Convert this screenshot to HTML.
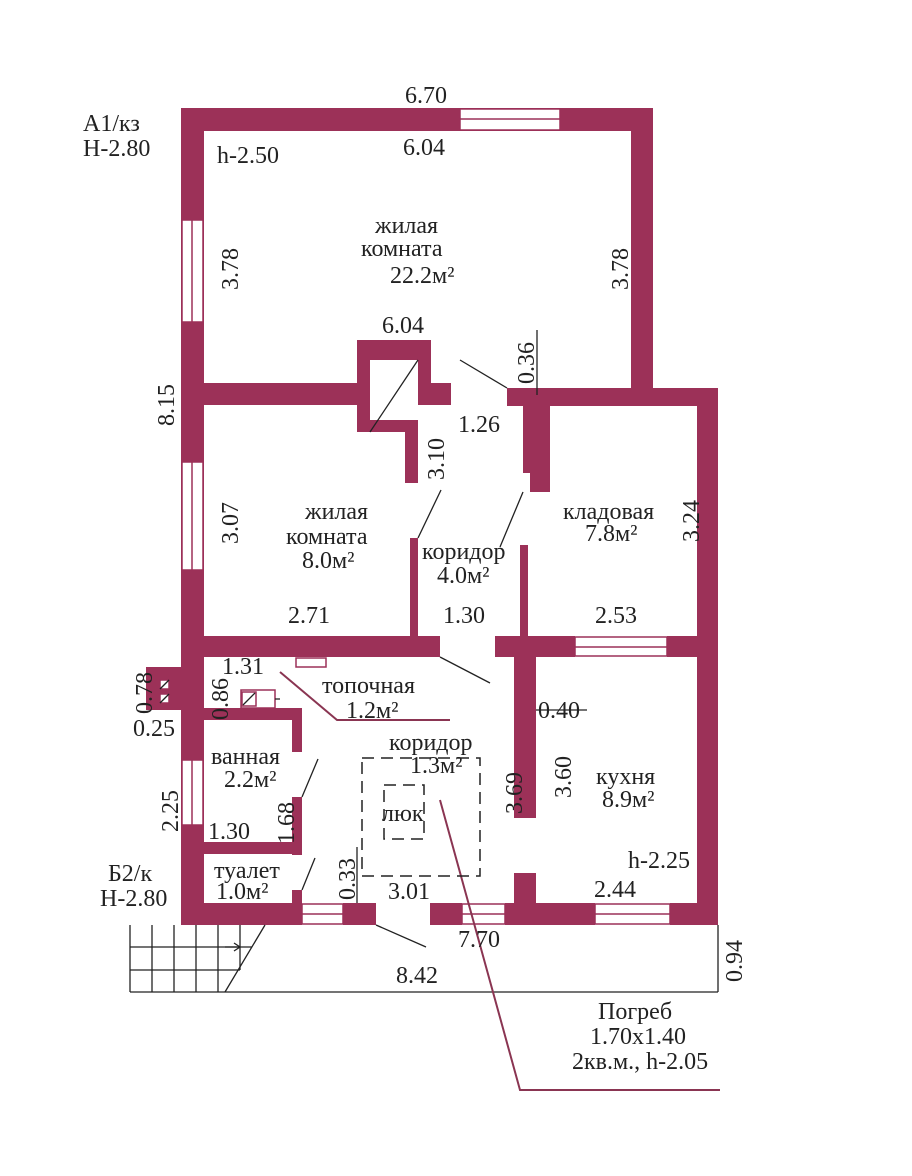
<!DOCTYPE html>
<html><head><meta charset="utf-8"><style>
body{margin:0;background:#fff}
svg text{font-family:"Liberation Serif",serif;fill:#222;font-size:24px}
</style></head><body>
<svg width="912" height="1171" viewBox="0 0 912 1171" xmlns="http://www.w3.org/2000/svg">
<g fill="#9c3158">
<rect x="181" y="108" width="472" height="23"/>
<rect x="181" y="108" width="23" height="817"/>
<rect x="631" y="108" width="22" height="297"/>
<rect x="507" y="388" width="211" height="18"/>
<rect x="697" y="388" width="21" height="537"/>
<rect x="181" y="903" width="121" height="22"/>
<rect x="343" y="903" width="33" height="22"/>
<rect x="430" y="903" width="32" height="22"/>
<rect x="505" y="903" width="90" height="22"/>
<rect x="670" y="903" width="48" height="22"/>
<rect x="204" y="383" width="156" height="22"/>
<rect x="357" y="340" width="74" height="20"/>
<rect x="357" y="340" width="13" height="92"/>
<rect x="418" y="340" width="13" height="65"/>
<rect x="418" y="383" width="33" height="22"/>
<rect x="357" y="420" width="61" height="12"/>
<rect x="405" y="420" width="13" height="63"/>
<rect x="523" y="388" width="27" height="85"/>
<rect x="530" y="470" width="20" height="22"/>
<rect x="410" y="538" width="8" height="100"/>
<rect x="204" y="636" width="236" height="21"/>
<rect x="520" y="545" width="8" height="93"/>
<rect x="495" y="636" width="80" height="21"/>
<rect x="667" y="636" width="30" height="21"/>
<rect x="514" y="657" width="22" height="161"/>
<rect x="514" y="873" width="22" height="30"/>
<rect x="204" y="708" width="98" height="12"/>
<rect x="292" y="710" width="10" height="42"/>
<rect x="292" y="797" width="10" height="58"/>
<rect x="204" y="842" width="98" height="12"/>
<rect x="292" y="890" width="10" height="15"/>
<rect x="146" y="667" width="36" height="43"/>
</g>
<g fill="#fff" stroke="#9c3158" stroke-width="1.5">
<rect x="460" y="109" width="100" height="21"/><line x1="460" y1="119" x2="560" y2="119"/>
<rect x="182" y="220" width="21" height="102"/><line x1="192" y1="220" x2="192" y2="322"/>
<rect x="182" y="462" width="21" height="108"/><line x1="192" y1="462" x2="192" y2="570"/>
<rect x="182" y="760" width="21" height="65"/><line x1="192" y1="760" x2="192" y2="825"/>
<rect x="575" y="637" width="92" height="19"/><line x1="575" y1="647" x2="667" y2="647"/>
<rect x="302" y="904" width="41" height="20"/><line x1="302" y1="914" x2="343" y2="914"/>
<rect x="462" y="904" width="43" height="20"/><line x1="462" y1="914" x2="505" y2="914"/>
<rect x="595" y="904" width="75" height="20"/><line x1="595" y1="914" x2="670" y2="914"/>
</g>
<g fill="#fff" stroke="#9c3158" stroke-width="1.5">
<rect x="296" y="658" width="30" height="9"/>
<rect x="160" y="680" width="9" height="9"/><rect x="160" y="694" width="9" height="9"/>
<rect x="241" y="690" width="34" height="18"/><rect x="242" y="692" width="14" height="14"/>
</g>
<g stroke="#222" stroke-width="1.3" fill="none">
<line x1="370" y1="432" x2="418" y2="360"/>
<line x1="160" y1="689" x2="169" y2="680"/><line x1="160" y1="703" x2="169" y2="694"/>
<line x1="243" y1="705" x2="255" y2="693"/><line x1="275" y1="699" x2="280" y2="699"/>
<line x1="460" y1="360" x2="507" y2="388"/>
<line x1="418" y1="538" x2="441" y2="490"/>
<line x1="500" y1="547" x2="523" y2="492"/>
<line x1="440" y1="657" x2="490" y2="683"/>
<line x1="302" y1="797" x2="318" y2="759"/>
<line x1="302" y1="890" x2="315" y2="858"/>
<line x1="376" y1="925" x2="426" y2="947"/>
<line x1="536" y1="710" x2="587" y2="710"/>
<line x1="537" y1="330" x2="537" y2="395"/>
<line x1="357" y1="847" x2="357" y2="903"/>
<line x1="130" y1="992" x2="718" y2="992"/>
<line x1="718" y1="925" x2="718" y2="992"/>
<polyline points="130,925 130,992"/>
<line x1="130" y1="947" x2="252" y2="947"/><line x1="130" y1="970" x2="240" y2="970"/>
<line x1="152" y1="925" x2="152" y2="992"/><line x1="174" y1="925" x2="174" y2="992"/>
<line x1="196" y1="925" x2="196" y2="992"/><line x1="218" y1="925" x2="218" y2="992"/>
<line x1="240" y1="925" x2="240" y2="970"/>
<line x1="265" y1="925" x2="225" y2="992"/>
<line x1="225" y1="947" x2="240" y2="947"/><polyline points="234,943 240,947 234,951"/>
</g>
<g stroke="#8a3552" stroke-width="2" fill="none">
<polyline points="280,672 337,720 450,720"/>
<polyline points="440,800 520,1090 720,1090"/>
</g>
<g stroke="#222" stroke-width="1.5" fill="none" stroke-dasharray="12,7">
<rect x="362" y="758" width="118" height="118"/>
<rect x="384" y="785" width="40" height="54"/>
</g>
<text x="405" y="103">6.70</text>
<text x="83" y="131">A1/кз</text><text x="83" y="156">H-2.80</text>
<text x="217" y="163">h-2.50</text>
<text x="403" y="155">6.04</text>
<text x="375" y="233">жилая</text><text x="361" y="256">комната</text><text x="390" y="283">22.2м²</text>
<text x="382" y="333">6.04</text>
<text x="458" y="432">1.26</text>
<text x="305" y="519">жилая</text><text x="286" y="544">комната</text><text x="302" y="568">8.0м²</text>
<text x="563" y="519">кладовая</text><text x="585" y="541">7.8м²</text>
<text x="422" y="559">коридор</text><text x="437" y="583">4.0м²</text>
<text x="288" y="623">2.71</text><text x="443" y="623">1.30</text><text x="595" y="623">2.53</text>
<text x="222" y="674">1.31</text>
<text x="322" y="693">топочная</text><text x="346" y="718">1.2м²</text>
<text x="133" y="736">0.25</text>
<text x="389" y="750">коридор</text><text x="410" y="773">1.3м²</text>
<text x="211" y="764">ванная</text><text x="224" y="787">2.2м²</text>
<text x="382" y="821">люк</text>
<text x="538" y="718">0.40</text>
<text x="596" y="784">кухня</text><text x="602" y="807">8.9м²</text>
<text x="208" y="839">1.30</text>
<text x="628" y="868">h-2.25</text>
<text x="108" y="881">Б2/к</text><text x="100" y="906">H-2.80</text>
<text x="214" y="878">туалет</text><text x="216" y="899">1.0м²</text>
<text x="388" y="899">3.01</text>
<text x="594" y="897">2.44</text>
<text x="458" y="947">7.70</text>
<text x="396" y="983">8.42</text>
<text x="598" y="1019">Погреб</text><text x="590" y="1044">1.70x1.40</text><text x="572" y="1069">2кв.м., h-2.05</text>
<g>
<text transform="translate(238,290) rotate(-90)">3.78</text>
<text transform="translate(628,290) rotate(-90)">3.78</text>
<text transform="translate(174,426) rotate(-90)">8.15</text>
<text transform="translate(534,384) rotate(-90)">0.36</text>
<text transform="translate(444,480) rotate(-90)">3.10</text>
<text transform="translate(238,544) rotate(-90)">3.07</text>
<text transform="translate(699,542) rotate(-90)">3.24</text>
<text transform="translate(152,714) rotate(-90)">0.78</text>
<text transform="translate(228,720) rotate(-90)">0.86</text>
<text transform="translate(178,832) rotate(-90)">2.25</text>
<text transform="translate(294,844) rotate(-90)">1.68</text>
<text transform="translate(355,900) rotate(-90)">0.33</text>
<text transform="translate(522,814) rotate(-90)">3.69</text>
<text transform="translate(571,798) rotate(-90)">3.60</text>
<text transform="translate(742,982) rotate(-90)">0.94</text>
</g>
</svg>
</body></html>
